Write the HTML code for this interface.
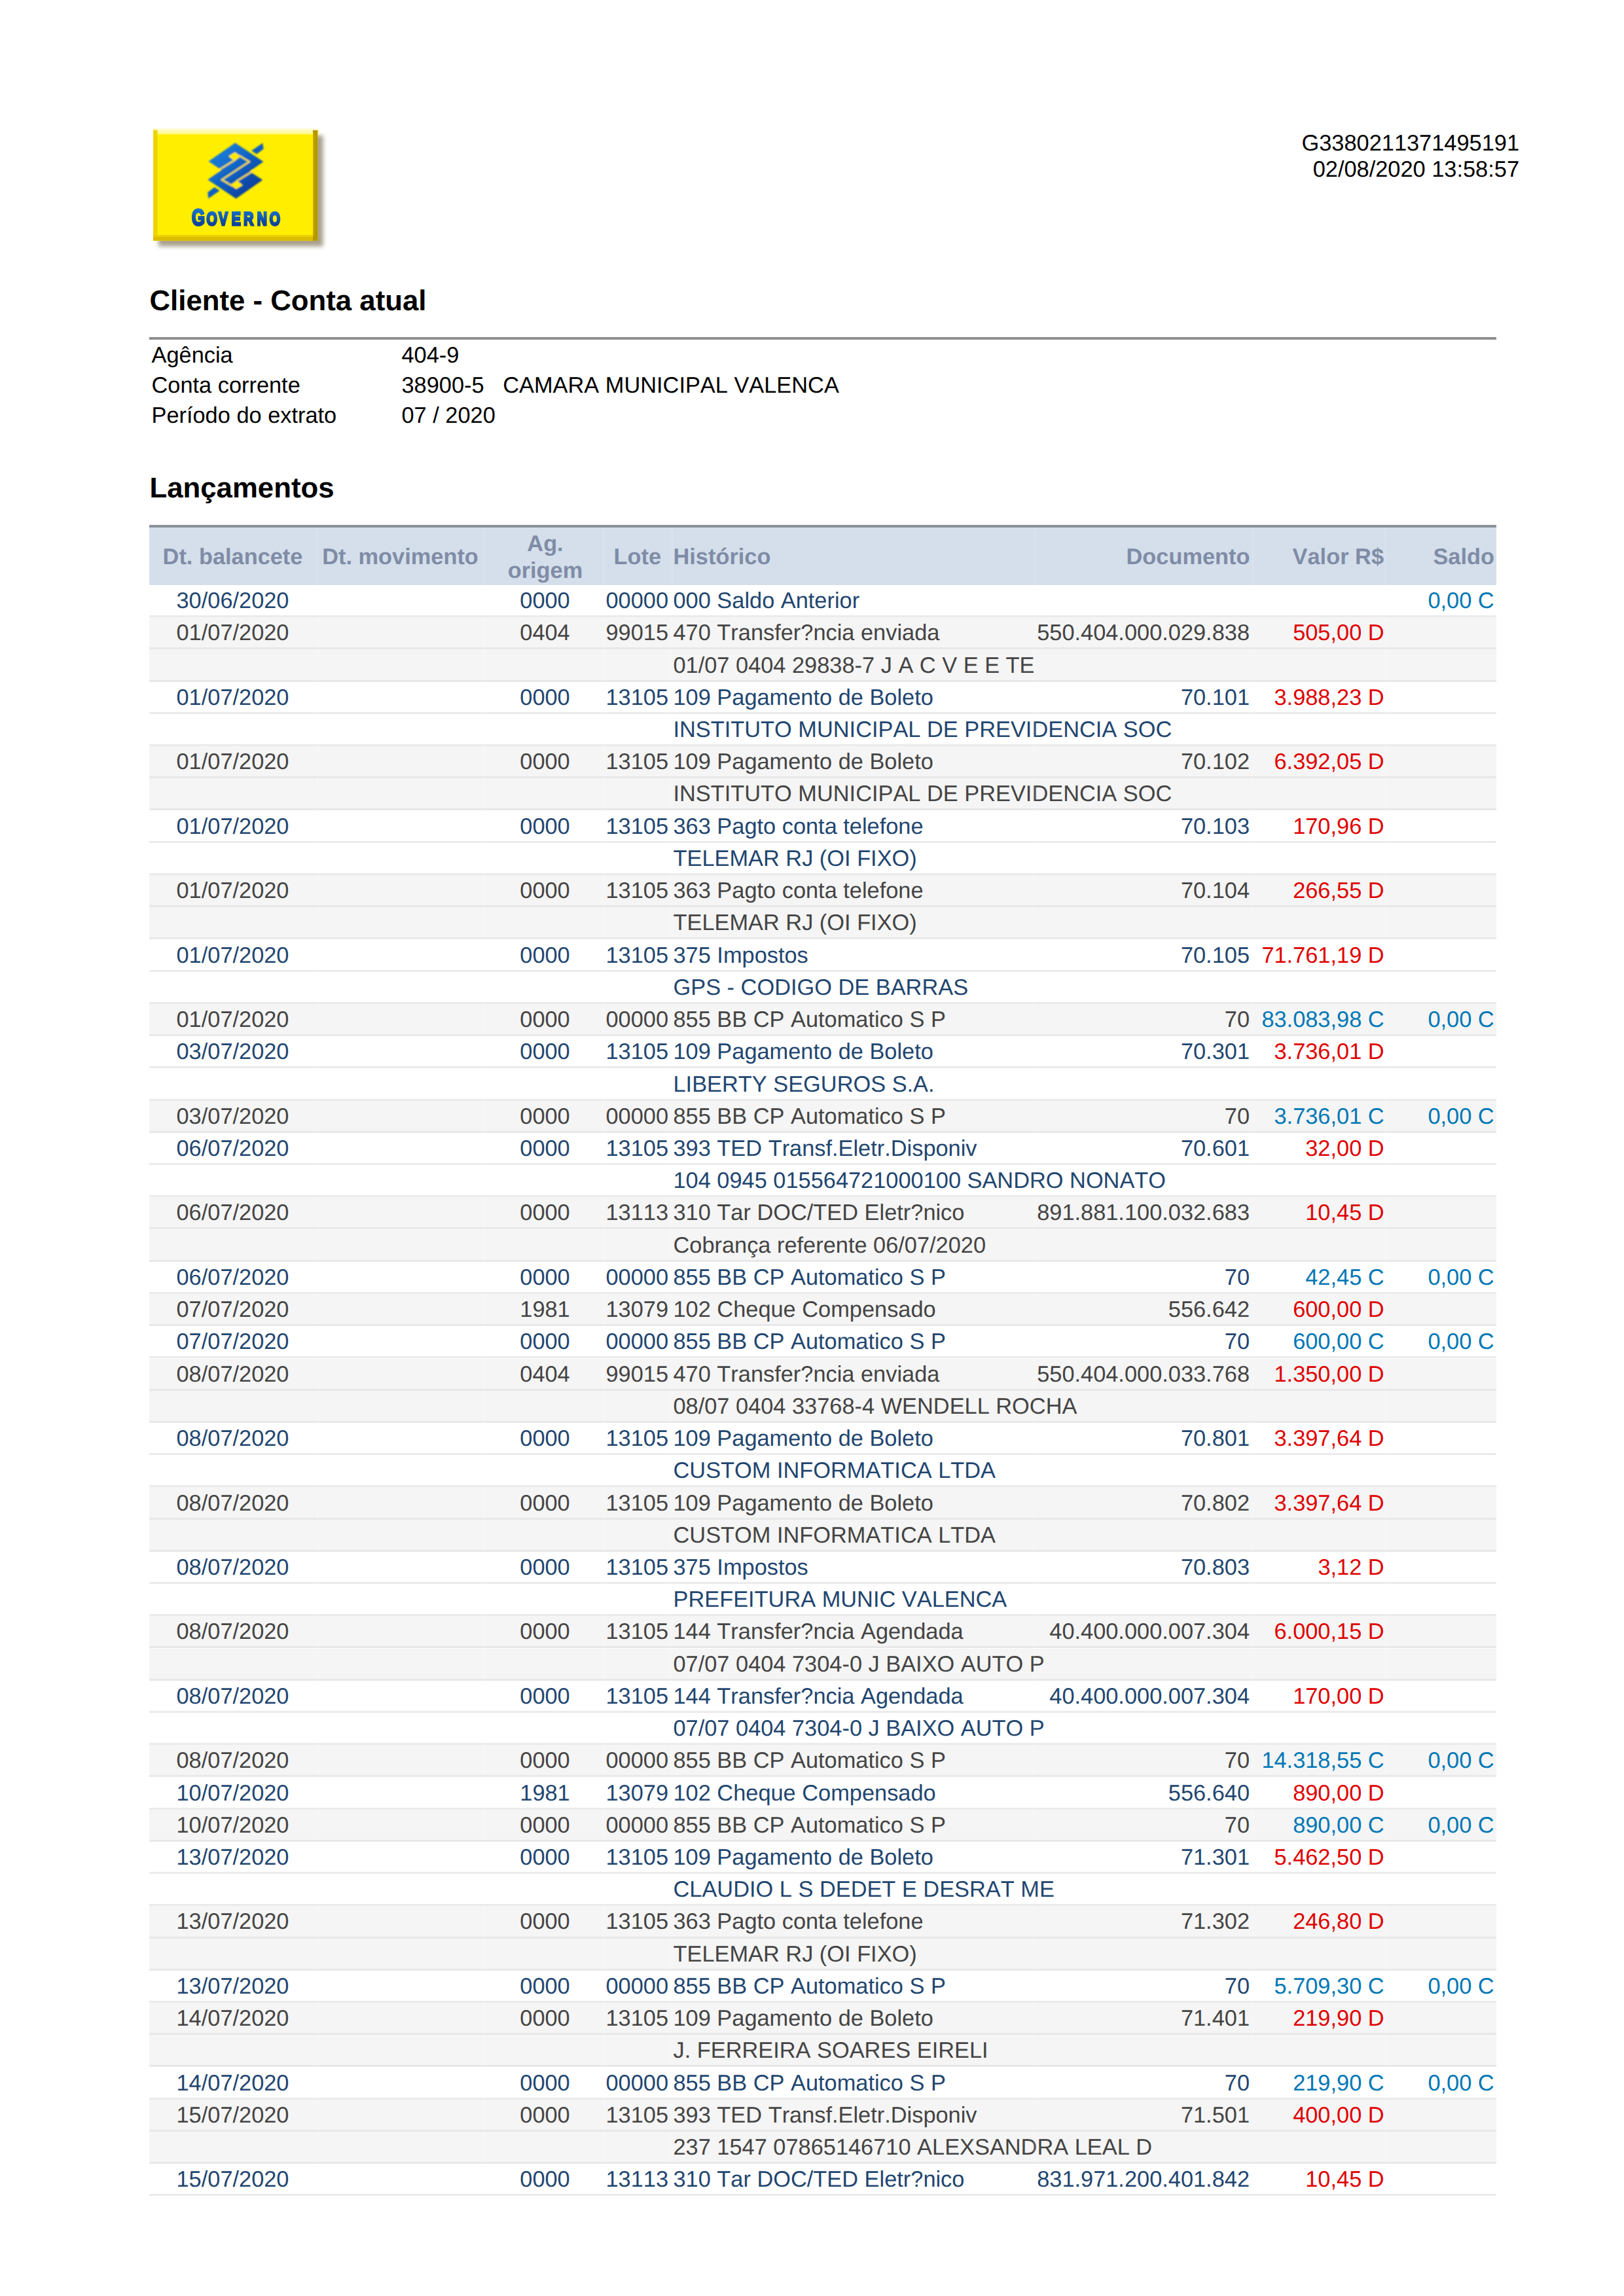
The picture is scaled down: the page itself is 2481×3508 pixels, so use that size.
<!DOCTYPE html>
<html lang="pt-BR"><head><meta charset="utf-8"><title>Extrato</title>
<style>
html,body{margin:0;padding:0;background:#fff;}
body{font-kerning:none;text-rendering:geometricPrecision;width:2481px;height:3508px;position:relative;overflow:hidden;font-family:"Liberation Sans",sans-serif;font-size:34.375px;color:#000;}
.a{position:absolute;white-space:nowrap;line-height:40px;height:40px;}
.r{text-align:right;}
.c{text-align:center;}
.h1{position:absolute;left:228.5px;font-weight:bold;font-size:43.75px;line-height:50px;white-space:nowrap;}
.row{position:absolute;left:228px;width:2058px;height:46.129px;border-bottom:3.1px solid #ebebeb;}
.row.g{background:#f5f5f5;color:#444;border-bottom-color:#e8e8e8;}
.row.w{background:#fff;color:#1f4670;}
.row span{position:absolute;top:4.10px;line-height:40px;height:40px;white-space:nowrap;}
.d1{left:0;width:255px;text-align:center;}
.d3{left:513px;width:183px;text-align:center;}
.d4{right:1265px;text-align:right;}
.d5{left:800.5px;}
.d6{right:377px;text-align:right;}
.d7{right:171.4px;text-align:right;}
.d8{right:3.4px;text-align:right;color:#0077b5;}
.D{color:#e00000;}
.C{color:#0077b5;}
.th{position:absolute;font-weight:bold;color:#808ca6;white-space:nowrap;line-height:40px;height:40px;}
</style></head><body>

<svg style="position:absolute;left:210px;top:180px;" width="310" height="220" viewBox="210 180 310 220">
<defs>
<filter id="sh" x="-10%" y="-10%" width="120%" height="120%"><feGaussianBlur stdDeviation="3"/></filter>
<filter id="bl1" x="-10%" y="-10%" width="120%" height="120%"><feGaussianBlur stdDeviation="0.8"/></filter>
<filter id="bl2" x="-10%" y="-20%" width="120%" height="140%"><feGaussianBlur stdDeviation="0.6"/></filter>
<linearGradient id="bl" gradientUnits="userSpaceOnUse" x1="325" y1="225" x2="395" y2="300"><stop offset="0" stop-color="#1b86e0"/><stop offset="0.5" stop-color="#0f5fc0"/><stop offset="1" stop-color="#06358e"/></linearGradient>
<linearGradient id="tb" x1="0" y1="0" x2="0" y2="1"><stop offset="0" stop-color="#fffde0"/><stop offset="0.45" stop-color="#fffbb8"/><stop offset="1" stop-color="#fff870"/></linearGradient>
<linearGradient id="gt" gradientUnits="userSpaceOnUse" x1="0" y1="-27" x2="0" y2="0"><stop offset="0" stop-color="#1c78d0"/><stop offset="1" stop-color="#0a3f98"/></linearGradient>
</defs>
<rect x="242" y="207" width="251.5" height="169.5" fill="#a8a08c" filter="url(#sh)"/>
<rect x="234.2" y="196" width="251.1" height="171.7" fill="#ffee00"/>
<rect x="234.2" y="196" width="253" height="9.5" fill="url(#tb)"/>
<rect x="234.2" y="198.5" width="6.4" height="169.2" fill="#ecd400"/>
<rect x="234.2" y="359.1" width="251.1" height="8.6" fill="#dcbc00"/>
<rect x="234.2" y="359.1" width="244" height="3" fill="#ecd000"/>
<rect x="478" y="199" width="7.3" height="168.7" fill="#b49600"/>
<rect x="478" y="203" width="2.6" height="158" fill="#c8a600"/>
<g filter="url(#bl1)">
<polygon points="359.3,218.2 402.4,247.1 361.7,275.4 318.6,246.5" fill="url(#bl)"/>
<polygon points="360.5,303.4 317.4,274.5 358.1,246.2 401.2,275.1" fill="url(#bl)"/>
<polygon points="384.2,230.3 401.3,218.4 402.6,227.6 392.2,235.6" fill="url(#bl)"/>
<polygon points="335.6,291.3 318.5,303.2 317.2,294.0 327.6,286.0" fill="url(#bl)"/>
<polygon points="359,232.6 349,238.6 358,246.2 368,238.8" fill="#ffea00"/>
<polygon points="360.8,289 370.8,283 361.8,275.4 351.8,282.8" fill="#ffea00"/>
<g fill="none" stroke="#fbe418" stroke-width="2.3" stroke-linejoin="miter">
<polyline points="358,245 332,261"/>
<polyline points="365.5,237.8 380.9,247 338.9,274.6 354.3,283.8"/>
<polyline points="361.8,276.6 387.8,260.6"/>
</g>
</g>
<text filter="url(#bl2)" transform="translate(0,344.4) scale(0.74,1)" x="395.8 426.3 451.2 478.0 502.9 530.6 556.4" y="0" font-family="'Liberation Sans',sans-serif" font-weight="bold" font-size="28.3" fill="url(#gt)" stroke="url(#gt)" stroke-width="3.0" stroke-linejoin="miter"><tspan font-size="34.7">G</tspan>OVERNO</text>
</svg>

<div class="a r" style="right:160px;top:199px;">G3380211371495191</div>
<div class="a r" style="right:160px;top:239px;">02/08/2020 13:58:57</div>
<div class="h1" style="top:434.5px;">Cliente - Conta atual</div>
<div style="position:absolute;left:228px;width:2058px;top:515px;height:3.5px;background:#8f8f90;"></div>
<div class="a" style="left:231.5px;top:523.3px;">Agência</div><div class="a" style="left:613.5px;top:523.3px;">404-9</div>
<div class="a" style="left:231.5px;top:569.3px;">Conta corrente</div><div class="a" style="left:613.5px;top:569.3px;">38900-5&nbsp;&nbsp; CAMARA MUNICIPAL VALENCA</div>
<div class="a" style="left:231.5px;top:615.3px;">Período do extrato</div><div class="a" style="left:613.5px;top:615.3px;">07 / 2020</div>
<div class="h1" style="top:721.3px;">Lançamentos</div>
<div style="position:absolute;left:228px;width:2058px;top:802px;height:4px;background:#8c9199;"></div>
<div style="position:absolute;left:228px;width:2058px;top:806px;height:88px;background:#d4dfeb;"></div>
<div class="th c" style="left:228px;width:255px;top:831.4px;">Dt. balancete</div>
<div class="th c" style="left:484px;width:255px;top:831.4px;">Dt. movimento</div>
<div class="th c" style="left:741.5px;width:183px;top:811.0px;">Ag.</div>
<div class="th c" style="left:741.5px;width:183px;top:852.2px;">origem</div>
<div class="th r" style="right:1471.0px;top:831.4px;">Lote</div>
<div class="th" style="left:1028.5px;top:831.4px;">Histórico</div>
<div class="th r" style="right:571.5px;top:831.4px;">Documento</div>
<div class="th r" style="right:367.0px;top:831.4px;">Valor R$</div>
<div class="th r" style="right:198.0px;top:831.4px;">Saldo</div>
<div class="row w" style="top:894.00px;"><span class="d1">30/06/2020</span><span class="d3">0000</span><span class="d4">00000</span><span class="d5">000 Saldo Anterior</span><span class="d8">0,00 C</span></div>
<div class="row g" style="top:943.23px;"><span class="d1">01/07/2020</span><span class="d3">0404</span><span class="d4">99015</span><span class="d5">470 Transfer?ncia enviada</span><span class="d6">550.404.000.029.838</span><span class="d7 D">505,00 D</span></div>
<div class="row g" style="top:992.46px;"><span class="d5">01/07 0404 29838-7 J A C V E E TE</span></div>
<div class="row w" style="top:1041.69px;"><span class="d1">01/07/2020</span><span class="d3">0000</span><span class="d4">13105</span><span class="d5">109 Pagamento de Boleto</span><span class="d6">70.101</span><span class="d7 D">3.988,23 D</span></div>
<div class="row w" style="top:1090.92px;"><span class="d5">INSTITUTO MUNICIPAL DE PREVIDENCIA SOC</span></div>
<div class="row g" style="top:1140.14px;"><span class="d1">01/07/2020</span><span class="d3">0000</span><span class="d4">13105</span><span class="d5">109 Pagamento de Boleto</span><span class="d6">70.102</span><span class="d7 D">6.392,05 D</span></div>
<div class="row g" style="top:1189.37px;"><span class="d5">INSTITUTO MUNICIPAL DE PREVIDENCIA SOC</span></div>
<div class="row w" style="top:1238.60px;"><span class="d1">01/07/2020</span><span class="d3">0000</span><span class="d4">13105</span><span class="d5">363 Pagto conta telefone</span><span class="d6">70.103</span><span class="d7 D">170,96 D</span></div>
<div class="row w" style="top:1287.83px;"><span class="d5">TELEMAR RJ (OI FIXO)</span></div>
<div class="row g" style="top:1337.06px;"><span class="d1">01/07/2020</span><span class="d3">0000</span><span class="d4">13105</span><span class="d5">363 Pagto conta telefone</span><span class="d6">70.104</span><span class="d7 D">266,55 D</span></div>
<div class="row g" style="top:1386.29px;"><span class="d5">TELEMAR RJ (OI FIXO)</span></div>
<div class="row w" style="top:1435.52px;"><span class="d1">01/07/2020</span><span class="d3">0000</span><span class="d4">13105</span><span class="d5">375 Impostos</span><span class="d6">70.105</span><span class="d7 D">71.761,19 D</span></div>
<div class="row w" style="top:1484.75px;"><span class="d5">GPS - CODIGO DE BARRAS</span></div>
<div class="row g" style="top:1533.98px;"><span class="d1">01/07/2020</span><span class="d3">0000</span><span class="d4">00000</span><span class="d5">855 BB CP Automatico S P</span><span class="d6">70</span><span class="d7 C">83.083,98 C</span><span class="d8">0,00 C</span></div>
<div class="row w" style="top:1583.21px;"><span class="d1">03/07/2020</span><span class="d3">0000</span><span class="d4">13105</span><span class="d5">109 Pagamento de Boleto</span><span class="d6">70.301</span><span class="d7 D">3.736,01 D</span></div>
<div class="row w" style="top:1632.43px;"><span class="d5">LIBERTY SEGUROS S.A.</span></div>
<div class="row g" style="top:1681.66px;"><span class="d1">03/07/2020</span><span class="d3">0000</span><span class="d4">00000</span><span class="d5">855 BB CP Automatico S P</span><span class="d6">70</span><span class="d7 C">3.736,01 C</span><span class="d8">0,00 C</span></div>
<div class="row w" style="top:1730.89px;"><span class="d1">06/07/2020</span><span class="d3">0000</span><span class="d4">13105</span><span class="d5">393 TED Transf.Eletr.Disponiv</span><span class="d6">70.601</span><span class="d7 D">32,00 D</span></div>
<div class="row w" style="top:1780.12px;"><span class="d5">104 0945 015564721000100 SANDRO NONATO</span></div>
<div class="row g" style="top:1829.35px;"><span class="d1">06/07/2020</span><span class="d3">0000</span><span class="d4">13113</span><span class="d5">310 Tar DOC/TED Eletr?nico</span><span class="d6">891.881.100.032.683</span><span class="d7 D">10,45 D</span></div>
<div class="row g" style="top:1878.58px;"><span class="d5">Cobrança referente 06/07/2020</span></div>
<div class="row w" style="top:1927.81px;"><span class="d1">06/07/2020</span><span class="d3">0000</span><span class="d4">00000</span><span class="d5">855 BB CP Automatico S P</span><span class="d6">70</span><span class="d7 C">42,45 C</span><span class="d8">0,00 C</span></div>
<div class="row g" style="top:1977.04px;"><span class="d1">07/07/2020</span><span class="d3">1981</span><span class="d4">13079</span><span class="d5">102 Cheque Compensado</span><span class="d6">556.642</span><span class="d7 D">600,00 D</span></div>
<div class="row w" style="top:2026.27px;"><span class="d1">07/07/2020</span><span class="d3">0000</span><span class="d4">00000</span><span class="d5">855 BB CP Automatico S P</span><span class="d6">70</span><span class="d7 C">600,00 C</span><span class="d8">0,00 C</span></div>
<div class="row g" style="top:2075.50px;"><span class="d1">08/07/2020</span><span class="d3">0404</span><span class="d4">99015</span><span class="d5">470 Transfer?ncia enviada</span><span class="d6">550.404.000.033.768</span><span class="d7 D">1.350,00 D</span></div>
<div class="row g" style="top:2124.72px;"><span class="d5">08/07 0404 33768-4 WENDELL ROCHA</span></div>
<div class="row w" style="top:2173.95px;"><span class="d1">08/07/2020</span><span class="d3">0000</span><span class="d4">13105</span><span class="d5">109 Pagamento de Boleto</span><span class="d6">70.801</span><span class="d7 D">3.397,64 D</span></div>
<div class="row w" style="top:2223.18px;"><span class="d5">CUSTOM INFORMATICA LTDA</span></div>
<div class="row g" style="top:2272.41px;"><span class="d1">08/07/2020</span><span class="d3">0000</span><span class="d4">13105</span><span class="d5">109 Pagamento de Boleto</span><span class="d6">70.802</span><span class="d7 D">3.397,64 D</span></div>
<div class="row g" style="top:2321.64px;"><span class="d5">CUSTOM INFORMATICA LTDA</span></div>
<div class="row w" style="top:2370.87px;"><span class="d1">08/07/2020</span><span class="d3">0000</span><span class="d4">13105</span><span class="d5">375 Impostos</span><span class="d6">70.803</span><span class="d7 D">3,12 D</span></div>
<div class="row w" style="top:2420.10px;"><span class="d5">PREFEITURA MUNIC VALENCA</span></div>
<div class="row g" style="top:2469.33px;"><span class="d1">08/07/2020</span><span class="d3">0000</span><span class="d4">13105</span><span class="d5">144 Transfer?ncia Agendada</span><span class="d6">40.400.000.007.304</span><span class="d7 D">6.000,15 D</span></div>
<div class="row g" style="top:2518.56px;"><span class="d5">07/07 0404 7304-0 J BAIXO AUTO P</span></div>
<div class="row w" style="top:2567.79px;"><span class="d1">08/07/2020</span><span class="d3">0000</span><span class="d4">13105</span><span class="d5">144 Transfer?ncia Agendada</span><span class="d6">40.400.000.007.304</span><span class="d7 D">170,00 D</span></div>
<div class="row w" style="top:2617.01px;"><span class="d5">07/07 0404 7304-0 J BAIXO AUTO P</span></div>
<div class="row g" style="top:2666.24px;"><span class="d1">08/07/2020</span><span class="d3">0000</span><span class="d4">00000</span><span class="d5">855 BB CP Automatico S P</span><span class="d6">70</span><span class="d7 C">14.318,55 C</span><span class="d8">0,00 C</span></div>
<div class="row w" style="top:2715.47px;"><span class="d1">10/07/2020</span><span class="d3">1981</span><span class="d4">13079</span><span class="d5">102 Cheque Compensado</span><span class="d6">556.640</span><span class="d7 D">890,00 D</span></div>
<div class="row g" style="top:2764.70px;"><span class="d1">10/07/2020</span><span class="d3">0000</span><span class="d4">00000</span><span class="d5">855 BB CP Automatico S P</span><span class="d6">70</span><span class="d7 C">890,00 C</span><span class="d8">0,00 C</span></div>
<div class="row w" style="top:2813.93px;"><span class="d1">13/07/2020</span><span class="d3">0000</span><span class="d4">13105</span><span class="d5">109 Pagamento de Boleto</span><span class="d6">71.301</span><span class="d7 D">5.462,50 D</span></div>
<div class="row w" style="top:2863.16px;"><span class="d5">CLAUDIO L S DEDET E DESRAT ME</span></div>
<div class="row g" style="top:2912.39px;"><span class="d1">13/07/2020</span><span class="d3">0000</span><span class="d4">13105</span><span class="d5">363 Pagto conta telefone</span><span class="d6">71.302</span><span class="d7 D">246,80 D</span></div>
<div class="row g" style="top:2961.62px;"><span class="d5">TELEMAR RJ (OI FIXO)</span></div>
<div class="row w" style="top:3010.85px;"><span class="d1">13/07/2020</span><span class="d3">0000</span><span class="d4">00000</span><span class="d5">855 BB CP Automatico S P</span><span class="d6">70</span><span class="d7 C">5.709,30 C</span><span class="d8">0,00 C</span></div>
<div class="row g" style="top:3060.08px;"><span class="d1">14/07/2020</span><span class="d3">0000</span><span class="d4">13105</span><span class="d5">109 Pagamento de Boleto</span><span class="d6">71.401</span><span class="d7 D">219,90 D</span></div>
<div class="row g" style="top:3109.30px;"><span class="d5">J. FERREIRA SOARES EIRELI</span></div>
<div class="row w" style="top:3158.53px;"><span class="d1">14/07/2020</span><span class="d3">0000</span><span class="d4">00000</span><span class="d5">855 BB CP Automatico S P</span><span class="d6">70</span><span class="d7 C">219,90 C</span><span class="d8">0,00 C</span></div>
<div class="row g" style="top:3207.76px;"><span class="d1">15/07/2020</span><span class="d3">0000</span><span class="d4">13105</span><span class="d5">393 TED Transf.Eletr.Disponiv</span><span class="d6">71.501</span><span class="d7 D">400,00 D</span></div>
<div class="row g" style="top:3256.99px;"><span class="d5">237 1547 07865146710 ALEXSANDRA LEAL D</span></div>
<div class="row w" style="top:3306.22px;"><span class="d1">15/07/2020</span><span class="d3">0000</span><span class="d4">13113</span><span class="d5">310 Tar DOC/TED Eletr?nico</span><span class="d6">831.971.200.401.842</span><span class="d7 D">10,45 D</span></div>
<div style="position:absolute;left:482.5px;width:4px;top:806px;height:2546.3px;background:rgba(255,255,255,0.10);"></div>
<div style="position:absolute;left:736.5px;width:4px;top:806px;height:2546.3px;background:rgba(255,255,255,0.10);"></div>
<div style="position:absolute;left:920.0px;width:4px;top:806px;height:2546.3px;background:rgba(255,255,255,0.10);"></div>
<div style="position:absolute;left:1024.0px;width:4px;top:806px;height:2546.3px;background:rgba(255,255,255,0.10);"></div>
<div style="position:absolute;left:1577.5px;width:4px;top:806px;height:2546.3px;background:rgba(255,255,255,0.10);"></div>
<div style="position:absolute;left:1911.5px;width:4px;top:806px;height:2546.3px;background:rgba(255,255,255,0.10);"></div>
<div style="position:absolute;left:2115.0px;width:4px;top:806px;height:2546.3px;background:rgba(255,255,255,0.10);"></div>
</body></html>
